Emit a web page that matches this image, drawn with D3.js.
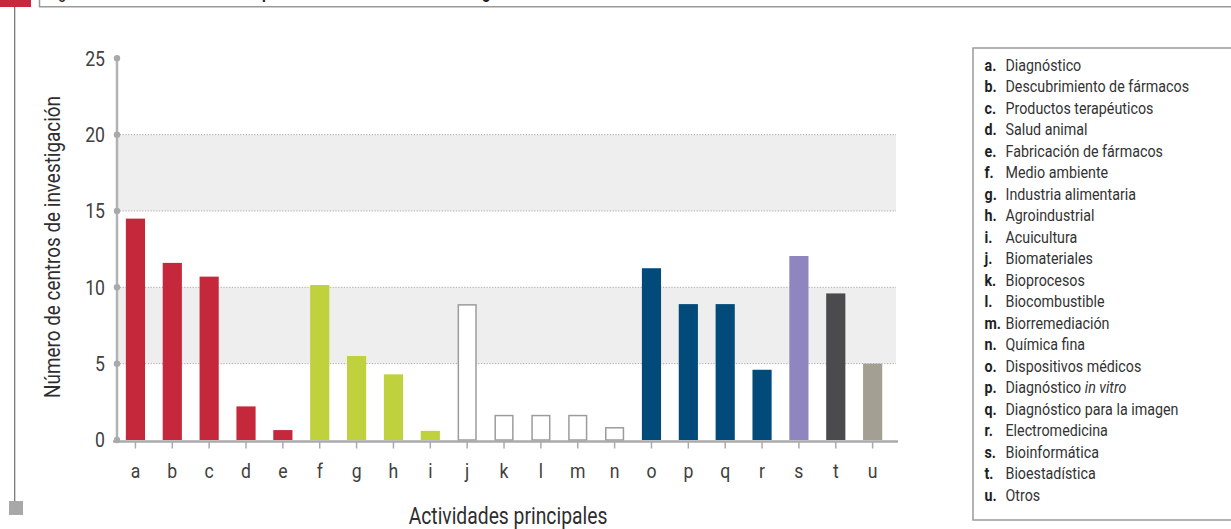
<!DOCTYPE html>
<html lang="es">
<head>
<meta charset="utf-8">
<script src="https://cdn.jsdelivr.net/npm/d3@7"></script>
<style>
  html, body { margin: 0; padding: 0; background: #fff; }
  svg { display: block; }
</style>
</head>
<body>
<svg id="chart" width="1231" height="529"></svg>
<script>
// Actividades principales (códigos a–u)
const categories = ["a","b","c","d","e","f","g","h","i","j","k","l","m","n","o","p","q","r","s","t","u"];

// Número de centros de investigación por actividad
const values = [14.5, 11.6, 10.7, 2.2, 0.65, 10.15, 5.5, 4.3, 0.6, 8.9, 1.65, 1.65, 1.65, 0.85, 11.25, 8.9, 8.9, 4.6, 12.05, 9.6, 5.0];

// Grupo de cada actividad (define el color de la barra)
const groups = ["salud","salud","salud","salud","salud",
                "agro","agro","agro","agro",
                "industrial","industrial","industrial","industrial","industrial",
                "medica","medica","medica","medica",
                "bioinf","bioest","otros"];

// Nombres de las actividades (|...| en cursiva)
const activityNames = [
  "Diagnóstico", "Descubrimiento de fármacos", "Productos terapéuticos", "Salud animal",
  "Fabricación de fármacos", "Medio ambiente", "Industria alimentaria", "Agroindustrial",
  "Acuicultura", "Biomateriales", "Bioprocesos", "Biocombustible", "Biorremediación",
  "Química fina", "Dispositivos médicos", "Diagnóstico |in vitro|", "Diagnóstico para la imagen",
  "Electromedicina", "Bioinformática", "Bioestadística", "Otros"
];

const yTicks = [0, 5, 10, 15, 20, 25];

const groupFill = {
  salud: "#c6283b", agro: "#bfd13c", industrial: "#ffffff", medica: "#024a7a",
  bioinf: "#8f86bf", bioest: "#4b4b4d", otros: "#a39f93"
};

const svg = d3.select("#chart");
const font = 'Roboto, "Liberation Sans", sans-serif';
const SX = 0.84;   // horizontal squeeze for a condensed look

// text drawn at (x,y) and squeezed horizontally around its anchor
function condText(parent, x, y, size, str, opts = {}) {
  const g = parent.append("g").attr("transform", `translate(${x},${y}) scale(${SX},1)`);
  const t = g.append("text").attr("font-family", font).attr("font-size", size)
    .attr("font-weight", opts.weight || 400).attr("fill", opts.fill || "#333")
    .attr("text-anchor", opts.anchor || "start");
  if (str !== null) t.text(str);
  return t;
}

// ---- page furniture: header strip and left rule ----
svg.append("rect").attr("x", 0).attr("y", 0).attr("width", 31).attr("height", 7).attr("fill", "#c8283b");
svg.append("path").attr("d", "M39.5,0 V6.7 H1231").attr("fill", "none").attr("stroke", "#9a9a9a").attr("stroke-width", 1.5);
svg.append("line").attr("x1", 14.7).attr("x2", 14.7).attr("y1", 7).attr("y2", 501)
  .attr("stroke", "#6e6e6e").attr("stroke-width", 1.2);
svg.append("rect").attr("x", 9).attr("y", 501).attr("width", 14).attr("height", 14).attr("fill", "#a8a8ab");

// title line sits above the top edge; only descenders show
condText(svg, 46, -2.5, 18, "Figura", { fill: "#222", weight: 400 });
condText(svg, 262, -2.5, 18, "por", { fill: "#222", weight: 700 });
condText(svg, 482, -2.5, 18, "gestión", { fill: "#222", weight: 700 });

// ---- scales ----
const x0 = 117, x1 = 117 + 21 * 36.86;
const x = d3.scaleBand().domain(categories).range([x0, x1]).paddingInner(0.48).paddingOuter(0.24);
const y = d3.scaleLinear().domain([0, 25]).range([440, 58.3]);
const plotRight = 896;

// shaded bands 5–10 and 15–20
const bands = [[5, 10], [15, 20]];
svg.append("g").selectAll("rect").data(bands).join("rect")
  .attr("x", x0).attr("width", plotRight - x0)
  .attr("y", d => y(d[1])).attr("height", d => y(d[0]) - y(d[1]))
  .attr("fill", "#eeeeee");

// dotted grid lines
svg.append("g").selectAll("line").data(yTicks.filter(t => t > 0 && t < 25)).join("line")
  .attr("x1", x0).attr("x2", plotRight)
  .attr("y1", d => y(d)).attr("y2", d => y(d))
  .attr("stroke", "#a8a8a8").attr("stroke-width", 1).attr("stroke-dasharray", "1.2,1.6");

// ---- bars ----
svg.append("g").selectAll("rect").data(categories).join("rect")
  .each(function(c, i) {
    const open = groups[i] === "industrial";
    const sel = d3.select(this);
    const bx = x(c), bw = x.bandwidth();
    if (open) {
      sel.attr("x", bx + 0.75).attr("width", bw - 1.5)
        .attr("y", y(values[i]) + 0.75).attr("height", y(0) - y(values[i]) - 0.75)
        .attr("fill", "#fff").attr("stroke", "#9c9c9c").attr("stroke-width", 1.5);
    } else {
      sel.attr("x", bx).attr("width", bw)
        .attr("y", y(values[i])).attr("height", y(0) - y(values[i]))
        .attr("fill", groupFill[groups[i]]);
    }
  });

// ---- y axis ----
const yAxis = svg.append("g").attr("transform", `translate(${x0},0)`)
  .call(d3.axisLeft(y).tickValues(yTicks).tickSize(0).tickPadding(12));
yAxis.select(".domain").remove();
yAxis.selectAll("text").attr("font-family", font).attr("font-size", 21).attr("font-weight", 400)
  .attr("fill", "#404040").attr("x", -12 / SX).attr("transform", `scale(${SX},1)`);
svg.append("line").attr("x1", x0).attr("x2", x0).attr("y1", y(0)).attr("y2", y(25))
  .attr("stroke", "#b2b2b4").attr("stroke-width", 2.5);
svg.append("g").selectAll("circle").data(yTicks).join("circle")
  .attr("cx", x0).attr("cy", d => y(d)).attr("r", 3.2).attr("fill", "#a9a9ab");

// ---- x axis ----
const xAxis = svg.append("g").attr("transform", `translate(0,${y(0) + 1.5})`)
  .call(d3.axisBottom(x).tickSize(7).tickPadding(0));
xAxis.select(".domain").remove();
xAxis.selectAll(".tick line").attr("stroke", "#ababab").attr("stroke-width", 1.5);
xAxis.selectAll("text").attr("font-family", font).attr("font-size", 21).attr("font-weight", 400)
  .attr("fill", "#404040").attr("y", 36.5).attr("dy", 0).attr("transform", `scale(${SX},1)`);
svg.append("line").attr("x1", x0 - 4).attr("x2", 898).attr("y1", y(0) + 1.5).attr("y2", y(0) + 1.5)
  .attr("stroke", "#aaaaac").attr("stroke-width", 2.5);

// axis titles
svg.append("g").attr("transform", "translate(60,247) rotate(-90)")
  .call(g => condText(g, 0, 0, 22.5, "Número de centros de investigación", { anchor: "middle", fill: "#2e2e2e" }));
condText(svg, 508, 524, 23, "Actividades principales", { anchor: "middle", fill: "#2e2e2e" });

// ---- legend ----
svg.append("rect").attr("x", 973).attr("y", 48).attr("width", 300).attr("height", 472)
  .attr("fill", "#fff").attr("stroke", "#9a9a9a").attr("stroke-width", 1.5);
const legend = svg.append("g");
categories.forEach((c, i) => {
  const by = 70.7 + i * 21.5;
  condText(legend, 984.5, by, 17, c + ".", { weight: 700, fill: "#1e1e1e" });
  const t = condText(legend, 1005.5, by, 17, null, { fill: "#333" });
  activityNames[i].split("|").forEach((part, k) => {
    if (part) t.append("tspan").attr("font-style", k % 2 ? "italic" : "normal").text(part);
  });
});
</script>
</body>
</html>
